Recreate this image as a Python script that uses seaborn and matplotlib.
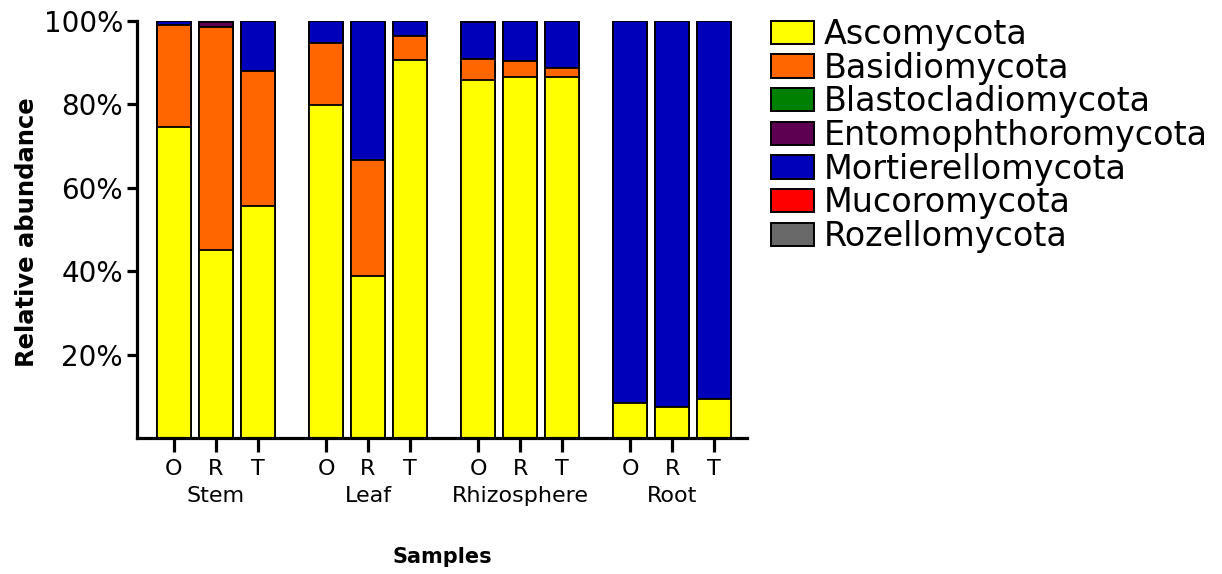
import numpy as np
import pandas as pd
import matplotlib
matplotlib.use("Agg")
import matplotlib.pyplot as plt
from matplotlib.patches import Patch
import seaborn as sns

# Sample layout: compartments, each with three treatments
compartments = ["Stem", "Leaf", "Rhizosphere", "Root"]
treatments = ["O", "R", "T"]

phyla = ["Ascomycota", "Basidiomycota", "Blastocladiomycota",
         "Entomophthoromycota", "Mortierellomycota", "Mucoromycota",
         "Rozellomycota"]
phylum_colors = ["#FFFF00", "#FF6600", "#008000", "#5E0052",
                 "#0000BB", "#FF0000", "#696969"]

# Relative abundance (%) per sample, in the order
# Stem O,R,T | Leaf O,R,T | Rhizosphere O,R,T | Root O,R,T
ascomycota = [74.5, 45.0, 55.6, 79.9, 38.8, 90.6, 85.9, 86.5, 86.5, 8.3, 7.5, 9.3]
basidiomycota = [24.6, 53.6, 32.4, 14.9, 27.9, 5.9, 5.0, 4.0, 2.3, 0.0, 0.0, 0.0]
blastocladiomycota = [0.0, 0.0, 0.0, 0.0, 0.0, 0.0, 0.0, 0.0, 0.0, 0.0, 0.0, 0.0]
entomophthoromycota = [0.0, 1.2, 0.0, 0.0, 0.0, 0.0, 0.0, 0.0, 0.0, 0.0, 0.0, 0.0]
mortierellomycota = [0.9, 0.2, 12.0, 5.2, 33.3, 3.5, 8.9, 9.5, 11.2, 91.7, 92.5, 90.7]
mucoromycota = [0.0, 0.0, 0.0, 0.0, 0.0, 0.0, 0.2, 0.0, 0.0, 0.0, 0.0, 0.0]
rozellomycota = [0.0, 0.0, 0.0, 0.0, 0.0, 0.0, 0.0, 0.0, 0.0, 0.0, 0.0, 0.0]

y_ticks = [20, 40, 60, 80, 100]
y_tick_labels = ["20%", "40%", "60%", "80%", "100%"]

layers = np.array([ascomycota, basidiomycota, blastocladiomycota,
                   entomophthoromycota, mortierellomycota, mucoromycota,
                   rozellomycota])
cumulative = np.cumsum(layers, axis=0)

group_step = 3.62
rows = []
for gi, comp in enumerate(compartments):
    for ti, trt in enumerate(treatments):
        rows.append({"compartment": comp, "treatment": trt,
                     "pos": gi * group_step + ti})
df = pd.DataFrame(rows)
for name, cum in zip(phyla, cumulative):
    df[name] = cum

sns.set_theme(style="ticks")
plt.rcParams["font.family"] = ["DejaVu Sans"]
plt.rcParams["text.color"] = "black"
plt.rcParams["axes.labelcolor"] = "black"
plt.rcParams["xtick.color"] = "black"
plt.rcParams["ytick.color"] = "black"

fig = plt.figure(figsize=(12.22, 5.74), dpi=100)
ax = fig.add_axes([137 / 1222, 1 - 438 / 574, 610 / 1222, 417 / 574])

# Stacked bars: draw cumulative totals from the top layer downwards
for name, color in reversed(list(zip(phyla, phylum_colors))):
    sns.barplot(data=df, x="pos", y=name, native_scale=True, color=color,
                saturation=1, width=0.81, edgecolor="black", linewidth=1.3,
                errorbar=None, ax=ax)

ax.set_xlim(-0.88, 13.64)
ax.set_ylim(0, 100)
ax.set_xlabel("")
ax.set_ylabel("")

for side in ["top", "right"]:
    ax.spines[side].set_visible(False)
for side in ["left", "bottom"]:
    ax.spines[side].set_linewidth(2.3)
    ax.spines[side].set_color("black")

ax.set_yticks(y_ticks)
ax.set_yticklabels(y_tick_labels, fontsize=20, color="black")
ax.set_xticks(df["pos"])
ax.set_xticklabels(df["treatment"], fontsize=16, color="black")
ax.tick_params(axis="y", length=7, width=2.3, pad=3, colors="black")
ax.tick_params(axis="x", length=10, width=2.3, pad=5, colors="black")

for gi, comp in enumerate(compartments):
    ax.text(gi * group_step + 1, -0.153, comp, transform=ax.get_xaxis_transform(),
            ha="center", va="baseline", fontsize=16, color="black")

fig.text(442 / 1222, 1 - 563 / 574, "Samples", ha="center", va="baseline",
         fontsize=15, fontweight="bold", color="black")
fig.text(27 / 1222, 1 - 232 / 574, "Relative abundance", ha="center",
         va="center", rotation=90, fontsize=17.5, fontweight="bold", color="black")

handles = [Patch(facecolor=c, edgecolor="black", linewidth=1.4) for c in phylum_colors]
leg = fig.legend(handles, phyla, loc="upper left", bbox_to_anchor=(771 / 1222, 1 - 18 / 574),
                 frameon=False, fontsize=24, handlelength=1.28, handleheight=0.7,
                 handletextpad=0.3, labelspacing=0.02, borderpad=0, borderaxespad=0)
for t in leg.get_texts():
    t.set_color("black")

fig.savefig("out.png", dpi=100, facecolor="white")
